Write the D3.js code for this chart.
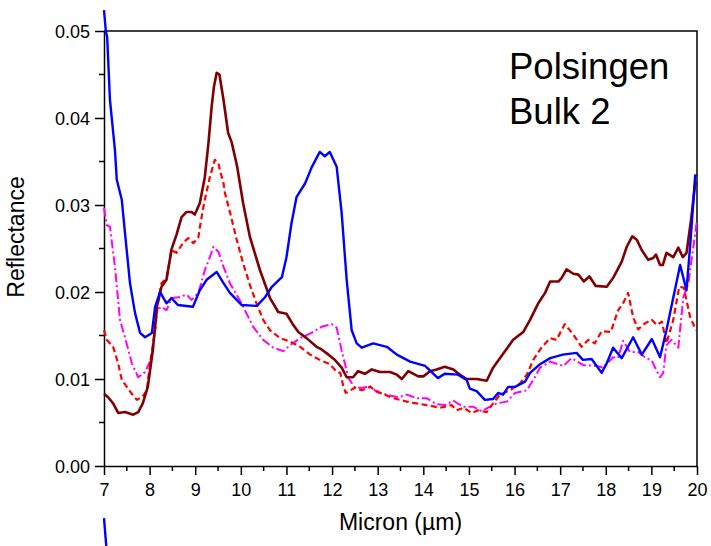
<!DOCTYPE html>
<html>
<head>
<meta charset="utf-8">
<script src="https://cdn.jsdelivr.net/npm/d3@7"></script>
<style>
  html, body { margin: 0; padding: 0; background: #fff; }
  svg { display: block; font-family: "Liberation Sans", Arial, sans-serif; }
</style>
</head>
<body>
<svg id="chart" width="711" height="546"></svg>
<script>
// Wavelength (micron) and reflectance pairs for each spectrum
const blueX = [7.00,7.04,7.07,7.13,7.24,7.28,7.39,7.46,7.57,7.68,7.79,7.90,8.05,8.12,8.23,8.37,8.48,8.62,8.95,9.10,9.25,9.47,9.61,9.76,10.02,10.35,10.53,10.68,10.90,11.00,11.11,11.22,11.41,11.55,11.73,11.84,11.95,12.10,12.21,12.32,12.43,12.54,12.65,12.90,13.20,13.42,13.71,14.04,14.32,14.47,14.76,14.95,15.02,15.17,15.35,15.53,15.64,15.75,15.86,16.01,16.23,16.34,16.56,16.78,17.06,17.36,17.50,17.69,17.91,18.02,18.16,18.35,18.60,18.79,19.01,19.19,19.33,19.47,19.63,19.77,19.86,19.96,20.00];
const blueY = [0.0524,0.0500,0.0493,0.0421,0.0363,0.0329,0.0306,0.0268,0.0210,0.0176,0.0153,0.0148,0.0153,0.0183,0.0200,0.0187,0.0193,0.0185,0.0183,0.0202,0.0214,0.0223,0.0211,0.0199,0.0185,0.0184,0.0194,0.0206,0.0217,0.0240,0.0279,0.0309,0.0325,0.0343,0.0361,0.0356,0.0361,0.0344,0.0291,0.0214,0.0156,0.0141,0.0136,0.0141,0.0137,0.0128,0.0120,0.0115,0.0101,0.0106,0.0105,0.0099,0.0089,0.0086,0.0076,0.0077,0.0084,0.0082,0.0091,0.0091,0.0097,0.0107,0.0117,0.0124,0.0128,0.0130,0.0122,0.0123,0.0107,0.0118,0.0136,0.0124,0.0148,0.0128,0.0146,0.0125,0.0156,0.0191,0.0231,0.0202,0.0260,0.0334,0.0334];
// short blue trace that runs off the bottom of the figure
const blueTailX = [7.00, 7.07];
const blueTailY = [-0.0060, -0.0105];

const brownX = [7.00,7.09,7.20,7.31,7.46,7.64,7.75,7.85,7.96,8.07,8.16,8.26,8.37,8.48,8.59,8.70,8.81,8.92,8.99,9.10,9.21,9.29,9.36,9.41,9.47,9.53,9.62,9.72,9.80,9.92,10.05,10.20,10.42,10.64,10.82,11.00,11.15,11.26,11.44,11.66,11.77,11.92,12.06,12.21,12.32,12.46,12.57,12.72,12.87,13.05,13.27,13.42,13.53,13.67,13.89,14.00,14.15,14.29,14.47,14.66,14.80,14.95,15.17,15.39,15.53,15.75,15.97,16.19,16.34,16.52,16.67,16.78,16.96,17.03,17.14,17.29,17.40,17.52,17.64,17.78,18.02,18.16,18.35,18.46,18.58,18.68,18.79,18.93,19.04,19.10,19.19,19.25,19.33,19.48,19.59,19.69,19.77,19.87,19.96,20.00];
const brownY = [0.0083,0.0079,0.0072,0.0061,0.0062,0.0059,0.0062,0.0072,0.0091,0.0133,0.0183,0.0206,0.0214,0.0249,0.0266,0.0286,0.0292,0.0292,0.0289,0.0302,0.0332,0.0371,0.0413,0.0436,0.0452,0.0450,0.0421,0.0383,0.0372,0.0344,0.0302,0.0263,0.0225,0.0193,0.0177,0.0175,0.0162,0.0154,0.0147,0.0137,0.0134,0.0128,0.0122,0.0113,0.0102,0.0102,0.0109,0.0106,0.0111,0.0108,0.0108,0.0105,0.0100,0.0109,0.0103,0.0103,0.0109,0.0111,0.0114,0.0111,0.0105,0.0100,0.0100,0.0098,0.0113,0.0129,0.0145,0.0154,0.0168,0.0187,0.0199,0.0212,0.0212,0.0216,0.0226,0.0221,0.0220,0.0212,0.0218,0.0207,0.0206,0.0216,0.0235,0.0252,0.0264,0.0260,0.0248,0.0237,0.0239,0.0243,0.0231,0.0231,0.0245,0.0240,0.0251,0.0240,0.0245,0.0283,0.0325,0.0325];

const redX = [7.00,7.06,7.13,7.20,7.31,7.39,7.50,7.61,7.72,7.85,7.94,8.01,8.12,8.19,8.26,8.37,8.48,8.59,8.74,8.85,8.96,9.07,9.10,9.18,9.21,9.32,9.43,9.51,9.54,9.62,9.65,9.76,9.91,10.05,10.20,10.35,10.49,10.64,10.86,11.08,11.30,11.52,11.73,11.95,12.11,12.18,12.25,12.30,12.50,12.65,12.83,13.05,13.34,13.64,13.85,14.07,14.37,14.62,14.73,14.88,15.06,15.20,15.39,15.53,15.68,15.90,16.12,16.27,16.41,16.59,16.78,16.92,17.10,17.29,17.47,17.62,17.76,17.91,18.11,18.27,18.38,18.49,18.60,18.71,18.86,19.01,19.12,19.23,19.33,19.48,19.61,19.71,19.85,19.98];
const redY = [0.0156,0.0145,0.0141,0.0137,0.0118,0.0099,0.0091,0.0083,0.0076,0.0080,0.0087,0.0118,0.0156,0.0191,0.0210,0.0216,0.0248,0.0245,0.0257,0.0262,0.0256,0.0263,0.0274,0.0298,0.0306,0.0332,0.0352,0.0348,0.0340,0.0325,0.0314,0.0292,0.0260,0.0233,0.0208,0.0186,0.0168,0.0156,0.0147,0.0143,0.0137,0.0128,0.0122,0.0117,0.0108,0.0107,0.0091,0.0084,0.0090,0.0087,0.0091,0.0084,0.0078,0.0074,0.0072,0.0070,0.0067,0.0070,0.0064,0.0067,0.0061,0.0064,0.0062,0.0072,0.0082,0.0087,0.0095,0.0105,0.0122,0.0136,0.0147,0.0145,0.0163,0.0151,0.0137,0.0145,0.0141,0.0155,0.0154,0.0179,0.0187,0.0199,0.0171,0.0157,0.0164,0.0168,0.0162,0.0166,0.0141,0.0168,0.0206,0.0205,0.0171,0.0156];

const magentaX = [7.00,7.06,7.13,7.24,7.35,7.46,7.61,7.75,7.90,8.05,8.16,8.26,8.37,8.48,8.63,8.81,8.92,9.07,9.21,9.32,9.40,9.51,9.62,9.76,9.94,10.09,10.27,10.49,10.71,10.93,11.08,11.30,11.55,11.77,11.99,12.10,12.21,12.36,12.50,12.68,12.83,12.98,13.20,13.45,13.64,13.85,14.07,14.29,14.47,14.66,14.88,15.10,15.28,15.42,15.61,15.83,16.01,16.27,16.41,16.56,16.78,17.07,17.25,17.51,17.80,17.94,18.16,18.27,18.38,18.53,18.71,18.86,19.01,19.11,19.19,19.26,19.33,19.44,19.59,19.70,19.81,19.92,20.00];
const magentaY = [0.0297,0.0277,0.0275,0.0229,0.0168,0.0148,0.0118,0.0102,0.0108,0.0125,0.0179,0.0183,0.0179,0.0193,0.0194,0.0197,0.0191,0.0199,0.0225,0.0240,0.0252,0.0246,0.0229,0.0210,0.0194,0.0179,0.0160,0.0145,0.0136,0.0132,0.0139,0.0147,0.0153,0.0160,0.0163,0.0159,0.0133,0.0101,0.0090,0.0090,0.0092,0.0085,0.0082,0.0079,0.0082,0.0078,0.0078,0.0071,0.0070,0.0075,0.0068,0.0068,0.0063,0.0067,0.0072,0.0074,0.0084,0.0087,0.0099,0.0113,0.0120,0.0115,0.0124,0.0116,0.0115,0.0113,0.0125,0.0124,0.0144,0.0131,0.0131,0.0125,0.0121,0.0110,0.0102,0.0107,0.0139,0.0145,0.0136,0.0194,0.0210,0.0252,0.0283];

// Axis ticks
const xTicks = [7,8,9,10,11,12,13,14,15,16,17,18,19,20];
const yTicks = [0.00,0.01,0.02,0.03,0.04,0.05];
const xMinor = [7.5,8.5,9.5,10.5,11.5,12.5,13.5,14.5,15.5,16.5,17.5,18.5,19.5];
const yMinor = [0.005,0.015,0.025,0.035,0.045];

const titleLines = ["Polsingen", "Bulk 2"];

const svg = d3.select("#chart");
const plot = { left: 104, right: 697, top: 31, bottom: 466 };

const x = d3.scaleLinear().domain([7, 20]).range([plot.left, plot.right]);
const y = d3.scaleLinear().domain([0, 0.05]).range([plot.bottom, plot.top]);

const zip = (xs, ys) => xs.map((v, i) => [v, ys[i]]);
const line = d3.line().x(d => x(d[0])).y(d => y(d[1]));

const series = [
  { pts: zip(magentaX, magentaY), color: "#ff00ff", width: 2, dash: "9,3,2,3" },
  { pts: zip(redX, redY), color: "#ff0000", width: 2.2, dash: "6,3.5" },
  { pts: zip(brownX, brownY), color: "#800000", width: 2.6, dash: null },
  { pts: zip(blueX, blueY), color: "#0000ff", width: 2.4, dash: null },
  { pts: zip(blueTailX, blueTailY), color: "#0000ff", width: 2.4, dash: null }
];

// Frame: top and right edges
svg.append("path")
  .attr("d", `M${plot.left},${plot.top}H${plot.right}V${plot.bottom}`)
  .attr("fill", "none").attr("stroke", "#000").attr("stroke-width", 1.5);

// Bottom axis
const gx = svg.append("g").attr("transform", `translate(0,${plot.bottom})`)
  .call(d3.axisBottom(x).tickValues(xTicks).tickFormat(d3.format("d")).tickSize(9).tickSizeOuter(0));
gx.append("g").selectAll("line").data(xMinor).join("line")
  .attr("x1", d => x(d)).attr("x2", d => x(d)).attr("y1", 0).attr("y2", 5)
  .attr("stroke", "#000").attr("stroke-width", 1.5);

// Left axis
const gy = svg.append("g").attr("transform", `translate(${plot.left},0)`)
  .call(d3.axisLeft(y).tickValues(yTicks).tickFormat(d3.format(".2f")).tickSize(9).tickSizeOuter(0));
gy.append("g").selectAll("line").data(yMinor).join("line")
  .attr("y1", d => y(d)).attr("y2", d => y(d)).attr("x1", 0).attr("x2", -5)
  .attr("stroke", "#000").attr("stroke-width", 1.5);

[gx, gy].forEach(g => {
  g.select(".domain").attr("stroke", "#000").attr("stroke-width", 1.5);
  g.selectAll(".tick line").attr("stroke", "#000").attr("stroke-width", 1.5);
  g.selectAll(".tick text")
    .attr("font-family", "'Liberation Sans', Arial, sans-serif")
    .attr("font-size", 18).attr("fill", "#000");
});
gx.selectAll(".tick text").attr("dy", "0.71em").attr("y", 17);
gy.selectAll(".tick text").attr("x", -14).attr("dy", "0.35em");

// Spectra
svg.append("g").selectAll("path").data(series).join("path")
  .attr("d", d => line(d.pts))
  .attr("fill", "none")
  .attr("stroke", d => d.color)
  .attr("stroke-width", d => d.width)
  .attr("stroke-dasharray", d => d.dash)
  .attr("stroke-linejoin", "round");

// Axis titles
svg.append("text")
  .attr("x", (plot.left + plot.right) / 2).attr("y", 530)
  .attr("text-anchor", "middle").attr("font-size", 23).attr("fill", "#000")
  .text("Micron (µm)");
svg.append("text")
  .attr("transform", "translate(24,237) rotate(-90)")
  .attr("text-anchor", "middle").attr("font-size", 23).attr("fill", "#000")
  .text("Reflectance");

// Sample label
svg.append("g").selectAll("text").data(titleLines).join("text")
  .attr("x", 509).attr("y", (d, i) => 79 + i * 45)
  .attr("font-size", 36.5).attr("fill", "#000")
  .text(d => d);
</script>
</body>
</html>
